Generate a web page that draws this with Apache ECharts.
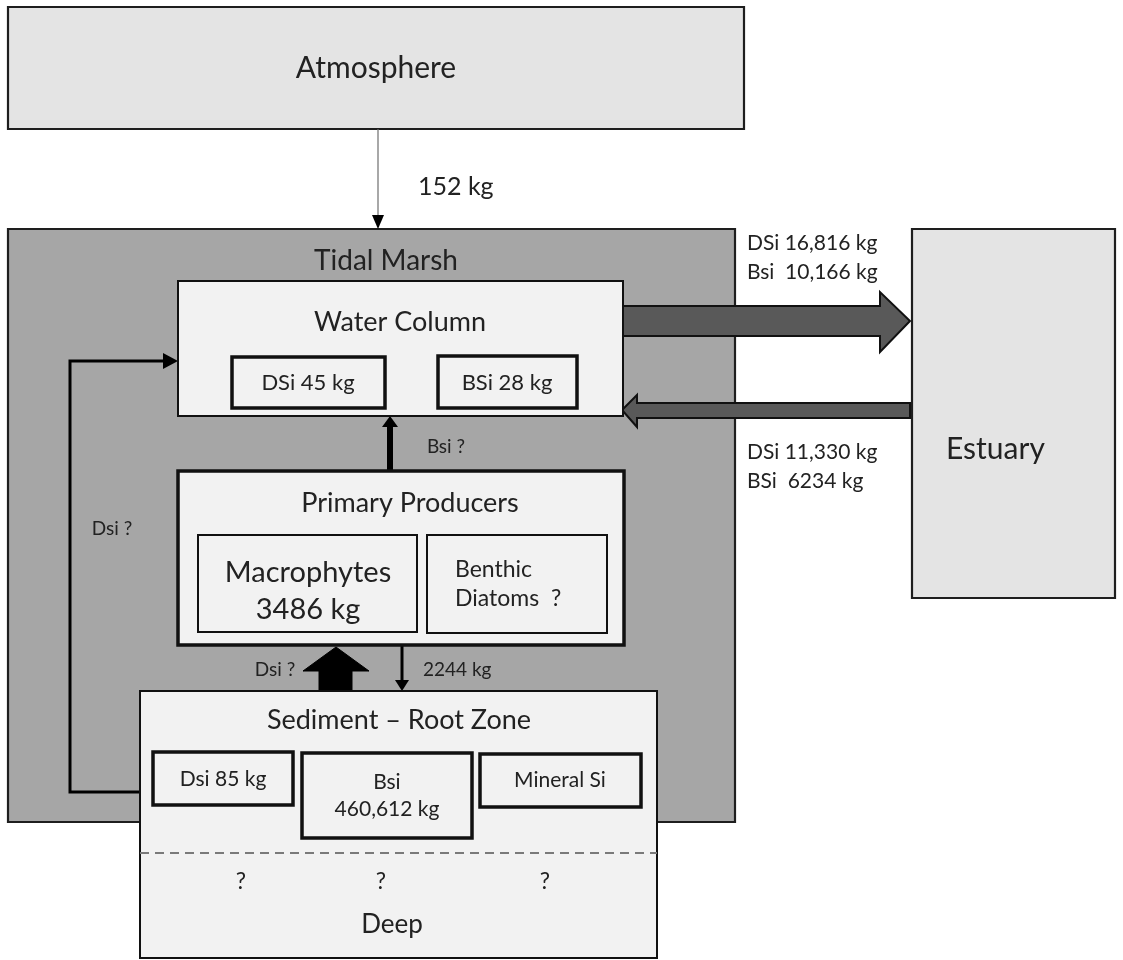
<!DOCTYPE html>
<html><head><meta charset="utf-8">
<script src="https://cdn.jsdelivr.net/npm/echarts@6/dist/echarts.min.js"></script>
<style>html,body{margin:0;padding:0;background:#fff}#c{width:1123px;height:960px}</style>
</head><body><div id="c"></div>
<script>
// ---------- DATA (diagram units: 0..1123 across, 0..960 down) ----------
const regionNames = ['Atmosphere', 'Tidal Marsh', 'Estuary'];
const regionExtents = [[8, 7, 744, 129], [8, 229, 735, 822], [912, 229, 1115, 598]];
const compartmentNames = ['Water Column', 'Primary Producers', 'Sediment – Root Zone'];
const compartmentExtents = [[178, 281, 623, 416], [178, 471, 624, 645], [140, 691, 657, 958]];
const poolNames = ['DSi 45 kg', 'BSi 28 kg', 'Macrophytes\n3486 kg', 'Benthic\nDiatoms  ?', 'Dsi 85 kg', 'Bsi\n460,612 kg', 'Mineral Si'];
const poolExtents = [[232, 357, 385, 408], [438, 356, 577, 408], [198, 535, 417, 632], [427, 535, 607, 633], [153, 752, 293, 805], [302, 753, 472, 838], [480, 754, 641, 807]];
const flowLabels = ['152 kg', 'DSi 16,816 kg', 'Bsi  10,166 kg', 'DSi 11,330 kg', 'BSi  6234 kg', 'Bsi ?', 'Dsi ?', 'Dsi ?', '2244 kg'];
const deepLabels = ['?', '?', '?', 'Deep'];

// ---------- LAYOUT ----------
const FONT = 'Lato, "Open Sans", sans-serif';
const regionLabelAt = [[376, 68, 30, 'center'], [386, 261, 28, 'center'], [946, 449, 30, 'left']];
const compartmentLabelAt = [[400, 322, 27, 'center'], [410, 503, 27, 'center'], [399, 720, 27, 'center']];
const poolLabelAt = [[308, 383, 22, 'center'], [507, 383, 22, 'center'], [308, 591, 29, 'center'], [455, 584, 23, 'left'], [223, 779, 21, 'center'], [387, 796, 21, 'center'], [560, 780, 21, 'center']];
const poolBorder = [3.5, 3.5, 2, 2, 3.5, 3.5, 3.5];
const flowLabelAt = [[418, 187, 25, 'left'], [747, 243, 21, 'left'], [747, 272, 21, 'left'], [747, 452, 21, 'left'], [747, 481, 21, 'left'], [446, 447, 19, 'center'], [112, 529, 19, 'center'], [275, 670, 19, 'center'], [423, 670, 19, 'left']];
const deepLabelAt = [[241, 882, 23, 'center'], [381, 882, 23, 'center'], [545, 882, 23, 'center'], [392, 925, 26, 'center']];
const arrows = [
  { kind: 'line', pts: [[378, 129], [378, 216]], w: 1.2, color: '#6e6e6e', head: [[372, 215], [384, 215], [378, 229]] },
  { kind: 'block', pts: [[623, 306], [880, 306], [880, 292], [910, 321], [880, 352], [880, 336], [623, 336]] },
  { kind: 'block', pts: [[910, 403], [637, 403], [637, 395], [622, 410], [637, 427], [637, 418], [910, 418]] },
  { kind: 'line', pts: [[390, 470], [390, 425]], w: 6, color: '#000', head: [[382, 427], [398, 427], [390, 416]] },
  { kind: 'solid', pts: [[319, 691], [319, 671], [303, 671], [336, 647], [369, 671], [352, 671], [352, 691]] },
  { kind: 'line', pts: [[402, 645], [402, 682]], w: 3, color: '#000', head: [[395, 680], [409, 680], [402, 691]] },
  { kind: 'line', pts: [[140, 792], [70, 792], [70, 361], [165, 361]], w: 3, color: '#000', head: [[163, 353], [163, 369], [178, 361]] }
];
const divider = [[140, 853], [657, 853]];

// ---------- RENDER ----------
const chart = echarts.init(document.getElementById('c'));
function rectEl(api, e, style) {
  const a = api.coord([e[0], e[1]]), b = api.coord([e[2], e[3]]);
  return { type: 'rect', shape: { x: a[0], y: a[1], width: b[0] - a[0], height: b[1] - a[1] }, style: style };
}
function textEl(api, str, at) {
  const p = api.coord([at[0], at[1]]);
  return { type: 'text', z2: 50, style: { text: str, x: p[0], y: p[1], fill: '#222', fontSize: at[2], fontFamily: FONT, align: at[3], verticalAlign: 'middle', lineHeight: Math.round(at[2] * 1.28) } };
}
function pts(api, list) { return list.map(p => api.coord(p)); }

function boxSeries(names, extents, labelAt, styleFn) {
  return {
    type: 'custom', coordinateSystem: 'cartesian2d', silent: true,
    encode: { x: [0, 2], y: [1, 3] },
    data: extents.map(e => e.slice()),
    renderItem: function (params, api) {
      const i = params.dataIndex;
      const e = [api.value(0), api.value(1), api.value(2), api.value(3)];
      return { type: 'group', children: [rectEl(api, e, styleFn(i)), textEl(api, names[i], labelAt[i])] };
    }
  };
}
function textSeries(labels, at) {
  return {
    type: 'custom', coordinateSystem: 'cartesian2d', silent: true,
    encode: { x: 0, y: 1 },
    data: at.map(a => [a[0], a[1]]),
    renderItem: function (params, api) {
      const i = params.dataIndex;
      return textEl(api, labels[i], [api.value(0), api.value(1), at[i][2], at[i][3]]);
    }
  };
}

const regionFill = ['#e4e4e4', '#a6a6a6', '#e4e4e4'];
const series = [
  boxSeries(regionNames, regionExtents, regionLabelAt, i => ({ fill: regionFill[i], stroke: '#1e1e1e', lineWidth: 2.2 })),
  {
    type: 'custom', coordinateSystem: 'cartesian2d', silent: true,
    encode: { x: 0, y: 1 },
    data: arrows.map(a => a.pts[0].slice()),
    renderItem: function (params, api) {
      const a = arrows[params.dataIndex];
      const P = pts(api, a.pts);
      if (a.kind === 'block') {
        return { type: 'polygon', shape: { points: P }, style: { fill: '#595959', stroke: '#111', lineWidth: 2 } };
      }
      if (a.kind === 'solid') {
        return { type: 'polygon', shape: { points: P }, style: { fill: '#000', stroke: '#000', lineWidth: 1 } };
      }
      return { type: 'group', children: [
        { type: 'polyline', shape: { points: P }, style: { stroke: a.color, lineWidth: a.w, fill: null, lineJoin: 'miter' } },
        { type: 'polygon', shape: { points: pts(api, a.head) }, style: { fill: '#000' } }
      ] };
    }
  },
  boxSeries(compartmentNames, compartmentExtents, compartmentLabelAt, i => ({ fill: '#f2f2f2', stroke: '#111', lineWidth: i === 1 ? 3.5 : 2 })),
  boxSeries(poolNames, poolExtents, poolLabelAt, i => ({ fill: '#f2f2f2', stroke: '#111', lineWidth: poolBorder[i] })),
  {
    type: 'custom', coordinateSystem: 'cartesian2d', silent: true,
    encode: { x: 0, y: 1 },
    data: [divider[0].concat(divider[1])],
    renderItem: function (params, api) {
      const a = api.coord([api.value(0), api.value(1)]), b = api.coord([api.value(2), api.value(3)]);
      return { type: 'line', shape: { x1: a[0], y1: a[1], x2: b[0], y2: b[1] }, style: { stroke: '#7a7a7a', lineWidth: 2, lineDash: [9, 6] } };
    }
  },
  textSeries(flowLabels, flowLabelAt),
  textSeries(deepLabels, deepLabelAt)
];

chart.setOption({
  animation: false,
  backgroundColor: '#ffffff',
  grid: { left: 0, right: 0, top: 0, bottom: 0 },
  xAxis: { type: 'value', min: 0, max: 1123, show: false },
  yAxis: { type: 'value', min: 0, max: 960, inverse: true, show: false },
  series: series
});
</script>
</body></html>
